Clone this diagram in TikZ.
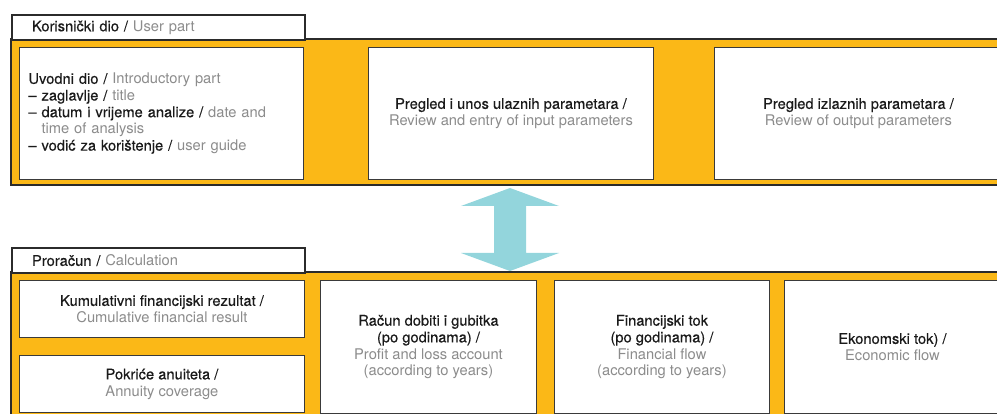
\documentclass[tikz,border=0pt]{standalone}
\usepackage{fontspec}
\setmainfont{TeX Gyre Heros}
\newfontfamily\medf{TeX Gyre Heros}[FakeBold=0.35]
\definecolor{bandc}{HTML}{FBB817}
\definecolor{darkc}{HTML}{2B2B2B}
\definecolor{cellc}{HTML}{3A3A3A}
\definecolor{greyc}{HTML}{8C8C8C}
\definecolor{textc}{HTML}{1A1A1A}
\definecolor{arrowc}{HTML}{93D5DC}
\newcommand\engl[1]{{\normalfont\color{greyc}#1}}
\tikzset{
  bandline/.style={draw=darkc, line width=2pt},
  lbl/.style={draw=darkc, line width=2pt, fill=white, anchor=north west, inner ysep=0pt,
    minimum height=25pt, minimum width=293pt, inner xsep=20pt, text width=253pt, align=left,
    text=textc, font=\medf\fontsize{14.7}{16.7}\selectfont},
  cell/.style={draw=cellc, line width=0.9pt, fill=white, anchor=north west, inner sep=0pt,
    align=center, text=textc, font=\medf\fontsize{14.7}{16.7}\selectfont},
}
\begin{document}
\begin{tikzpicture}[x=1pt,y=-1pt]
\useasboundingbox (0,0) rectangle (997,414);
% bands
\fill[bandc] (11,39) rectangle (1010,185);
\draw[bandline] (1010,39) -- (11,39) -- (11,185) -- (1010,185);
\fill[bandc] (11,272) rectangle (1010,430);
\draw[bandline] (1010,272) -- (11,272) -- (11,430);
% labels
\node[lbl] (lblTop) at (11,14) {Korisnički dio / \engl{User part}};
\node[lbl] (lblBot) at (11,247) {Proračun / \engl{Calculation}};
% top cells
\node[cell, minimum width=284pt, minimum height=132pt, text width=266pt, align=left] (intro) at (19,47)
 {Uvodni dio / \engl{Introductory part}\\
  – zaglavlje / \engl{title}\\
  – datum i vrijeme analize / \engl{date and}\\
  \phantom{– }\engl{time of analysis}\\
  – vodić za korištenje / \engl{user guide}};
\node[cell, minimum width=285pt, minimum height=132pt] (input) at (368,47)
 {Pregled i unos ulaznih parametara /\\ \engl{Review and entry of input parameters}};
\node[cell, minimum width=288pt, minimum height=132pt] (output) at (714,47)
 {Pregled izlaznih parametara /\\ \engl{Review of output parameters}};
% bottom cells
\node[cell, minimum width=285pt, minimum height=57pt] (kum) at (19,280)
 {Kumulativni financijski rezultat /\\ \engl{Cumulative financial result}};
\node[cell, minimum width=285pt, minimum height=57pt] (pok) at (19,355)
 {Pokriće anuiteta /\\ \engl{Annuity coverage}};
\node[cell, minimum width=216pt, minimum height=133pt] (rdg) at (320,280)
 {Račun dobiti i gubitka\\ (po godinama) /\\ \engl{Profit and loss account}\\ \engl{(according to years)}};
\node[cell, minimum width=215pt, minimum height=133pt] (ft) at (554,280)
 {Financijski tok\\ (po godinama) /\\ \engl{Financial flow}\\ \engl{(according to years)}};
\node[cell, minimum width=216pt, minimum height=133pt] (et) at (784,280)
 {Ekonomski tok) /\\ \engl{Economic flow}};
% double arrow
\fill[arrowc] (510,188) -- (559,206) -- (526,206) -- (526,253) -- (559,253) -- (510,271)
  -- (461,253) -- (494,253) -- (494,206) -- (461,206) -- cycle;
\end{tikzpicture}
\end{document}
